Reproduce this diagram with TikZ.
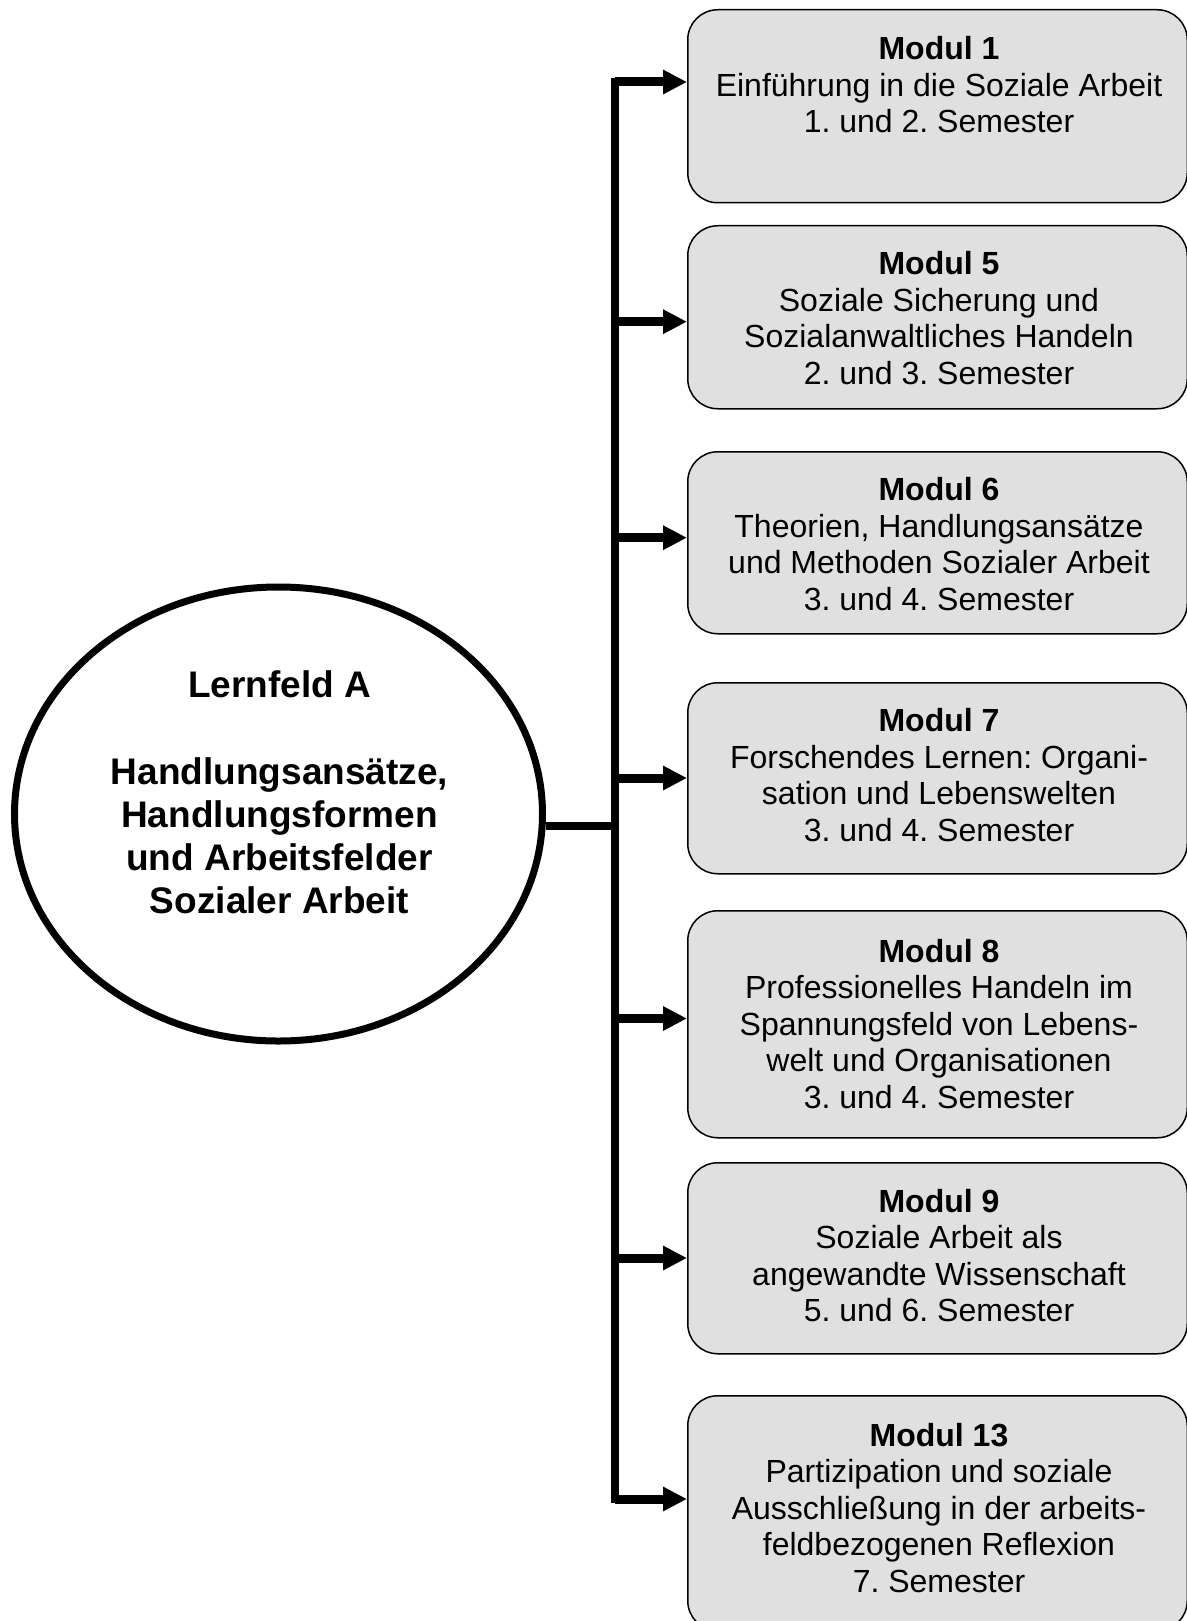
\documentclass[tikz,border=0pt]{standalone}
\usepackage{fontspec}
\setmainfont{Liberation Sans}
\usetikzlibrary{arrows.meta,shapes.geometric}
\definecolor{boxgray}{RGB}{224,224,224}
\frenchspacing
\begin{document}
\frenchspacing
\begin{tikzpicture}[x=1pt,y=-1pt,
  modbox/.style={rectangle, draw=black, line width=1.5pt, fill=boxgray, rounded corners=30pt,
    minimum width=499.5pt, inner sep=0pt, anchor=north west},
  modtext/.style={align=center, inner sep=0pt, font=\frenchspacing\fontsize{32pt}{36.5pt}\selectfont},
  lftext/.style={align=center, inner sep=0pt, font=\frenchspacing\bfseries\fontsize{37pt}{43.3pt}\selectfont},
  trunk/.style={line width=8pt, line cap=rect},
  branch/.style={line width=9pt, -{Triangle[length=24pt,width=23pt]}},
  joint/.style={line width=8pt},
]
\useasboundingbox (0,0) rectangle (1186,1621);

% ellipse
\node[ellipse, draw=black, line width=7pt, minimum width=528pt, minimum height=454pt, inner sep=0pt] (lf) at (278.5,814) {};
\node[lftext] (lft) at (279.5,792.5) {Lernfeld A\\[43.3pt]Handlungsansätze,\\Handlungsformen\\und Arbeitsfelder\\Sozialer Arbeit};

% module boxes
\node[modbox, minimum height=193pt] (m1) at (687,9) {};
\node[modbox, minimum height=183pt] (m5) at (687,225) {};
\node[modbox, minimum height=182pt] (m6) at (687,451) {};
\node[modbox, minimum height=191pt] (m7) at (687,682) {};
\node[modbox, minimum height=227pt] (m8) at (687,910) {};
\node[modbox, minimum height=191pt] (m9) at (687,1162) {};
\node[modbox, minimum height=235pt] (m13) at (687,1395) {};

\node[modtext] (t1) at (939,84.8) {\textbf{Modul 1}\\Einführung in die Soziale Arbeit\\1. und 2. Semester};
\node[modtext] (t5) at (939,318) {\textbf{Modul 5}\\Soziale Sicherung und\\Sozialanwaltliches Handeln\\2. und 3. Semester};
\node[modtext] (t6) at (939,543.9) {\textbf{Modul 6}\\Theorien, Handlungsansätze\\und Methoden Sozialer Arbeit\\3. und 4. Semester};
\node[modtext] (t7) at (939,775) {\textbf{Modul 7}\\Forschendes Lernen: Organi-\\sation und Lebenswelten\\3. und 4. Semester};
\node[modtext] (t8) at (939,1023.6) {\textbf{Modul 8}\\Professionelles Handeln im\\Spannungsfeld von Lebens-\\welt und Organisationen\\3. und 4. Semester};
\node[modtext] (t9) at (939,1255.3) {\textbf{Modul 9}\\Soziale Arbeit als\\angewandte Wissenschaft\\5. und 6. Semester};
\node[modtext] (t13) at (939,1508) {\textbf{Modul 13}\\Partizipation und soziale\\Ausschließung in der arbeits-\\feldbezogenen Reflexion\\7. Semester};

% trunk junctions
\coordinate (j1) at (615,82);
\coordinate (j5) at (615,321.7);
\coordinate (j6) at (615,537.7);
\coordinate (j7) at (615,778);
\coordinate (j8) at (615,1018.5);
\coordinate (j9) at (615,1258);
\coordinate (j13) at (615,1499);
\coordinate (jc) at (615,826);

\draw[trunk] (j1) -- (j13);
\draw[joint] (lf.east |- jc) -- (jc);
\draw[branch] (j1) -- (j1 -| m1.west);
\draw[branch] (j5) -- (j5 -| m5.west);
\draw[branch] (j6) -- (j6 -| m6.west);
\draw[branch] (j7) -- (j7 -| m7.west);
\draw[branch] (j8) -- (j8 -| m8.west);
\draw[branch] (j9) -- (j9 -| m9.west);
\draw[branch] (j13) -- (j13 -| m13.west);
\end{tikzpicture}
\end{document}
